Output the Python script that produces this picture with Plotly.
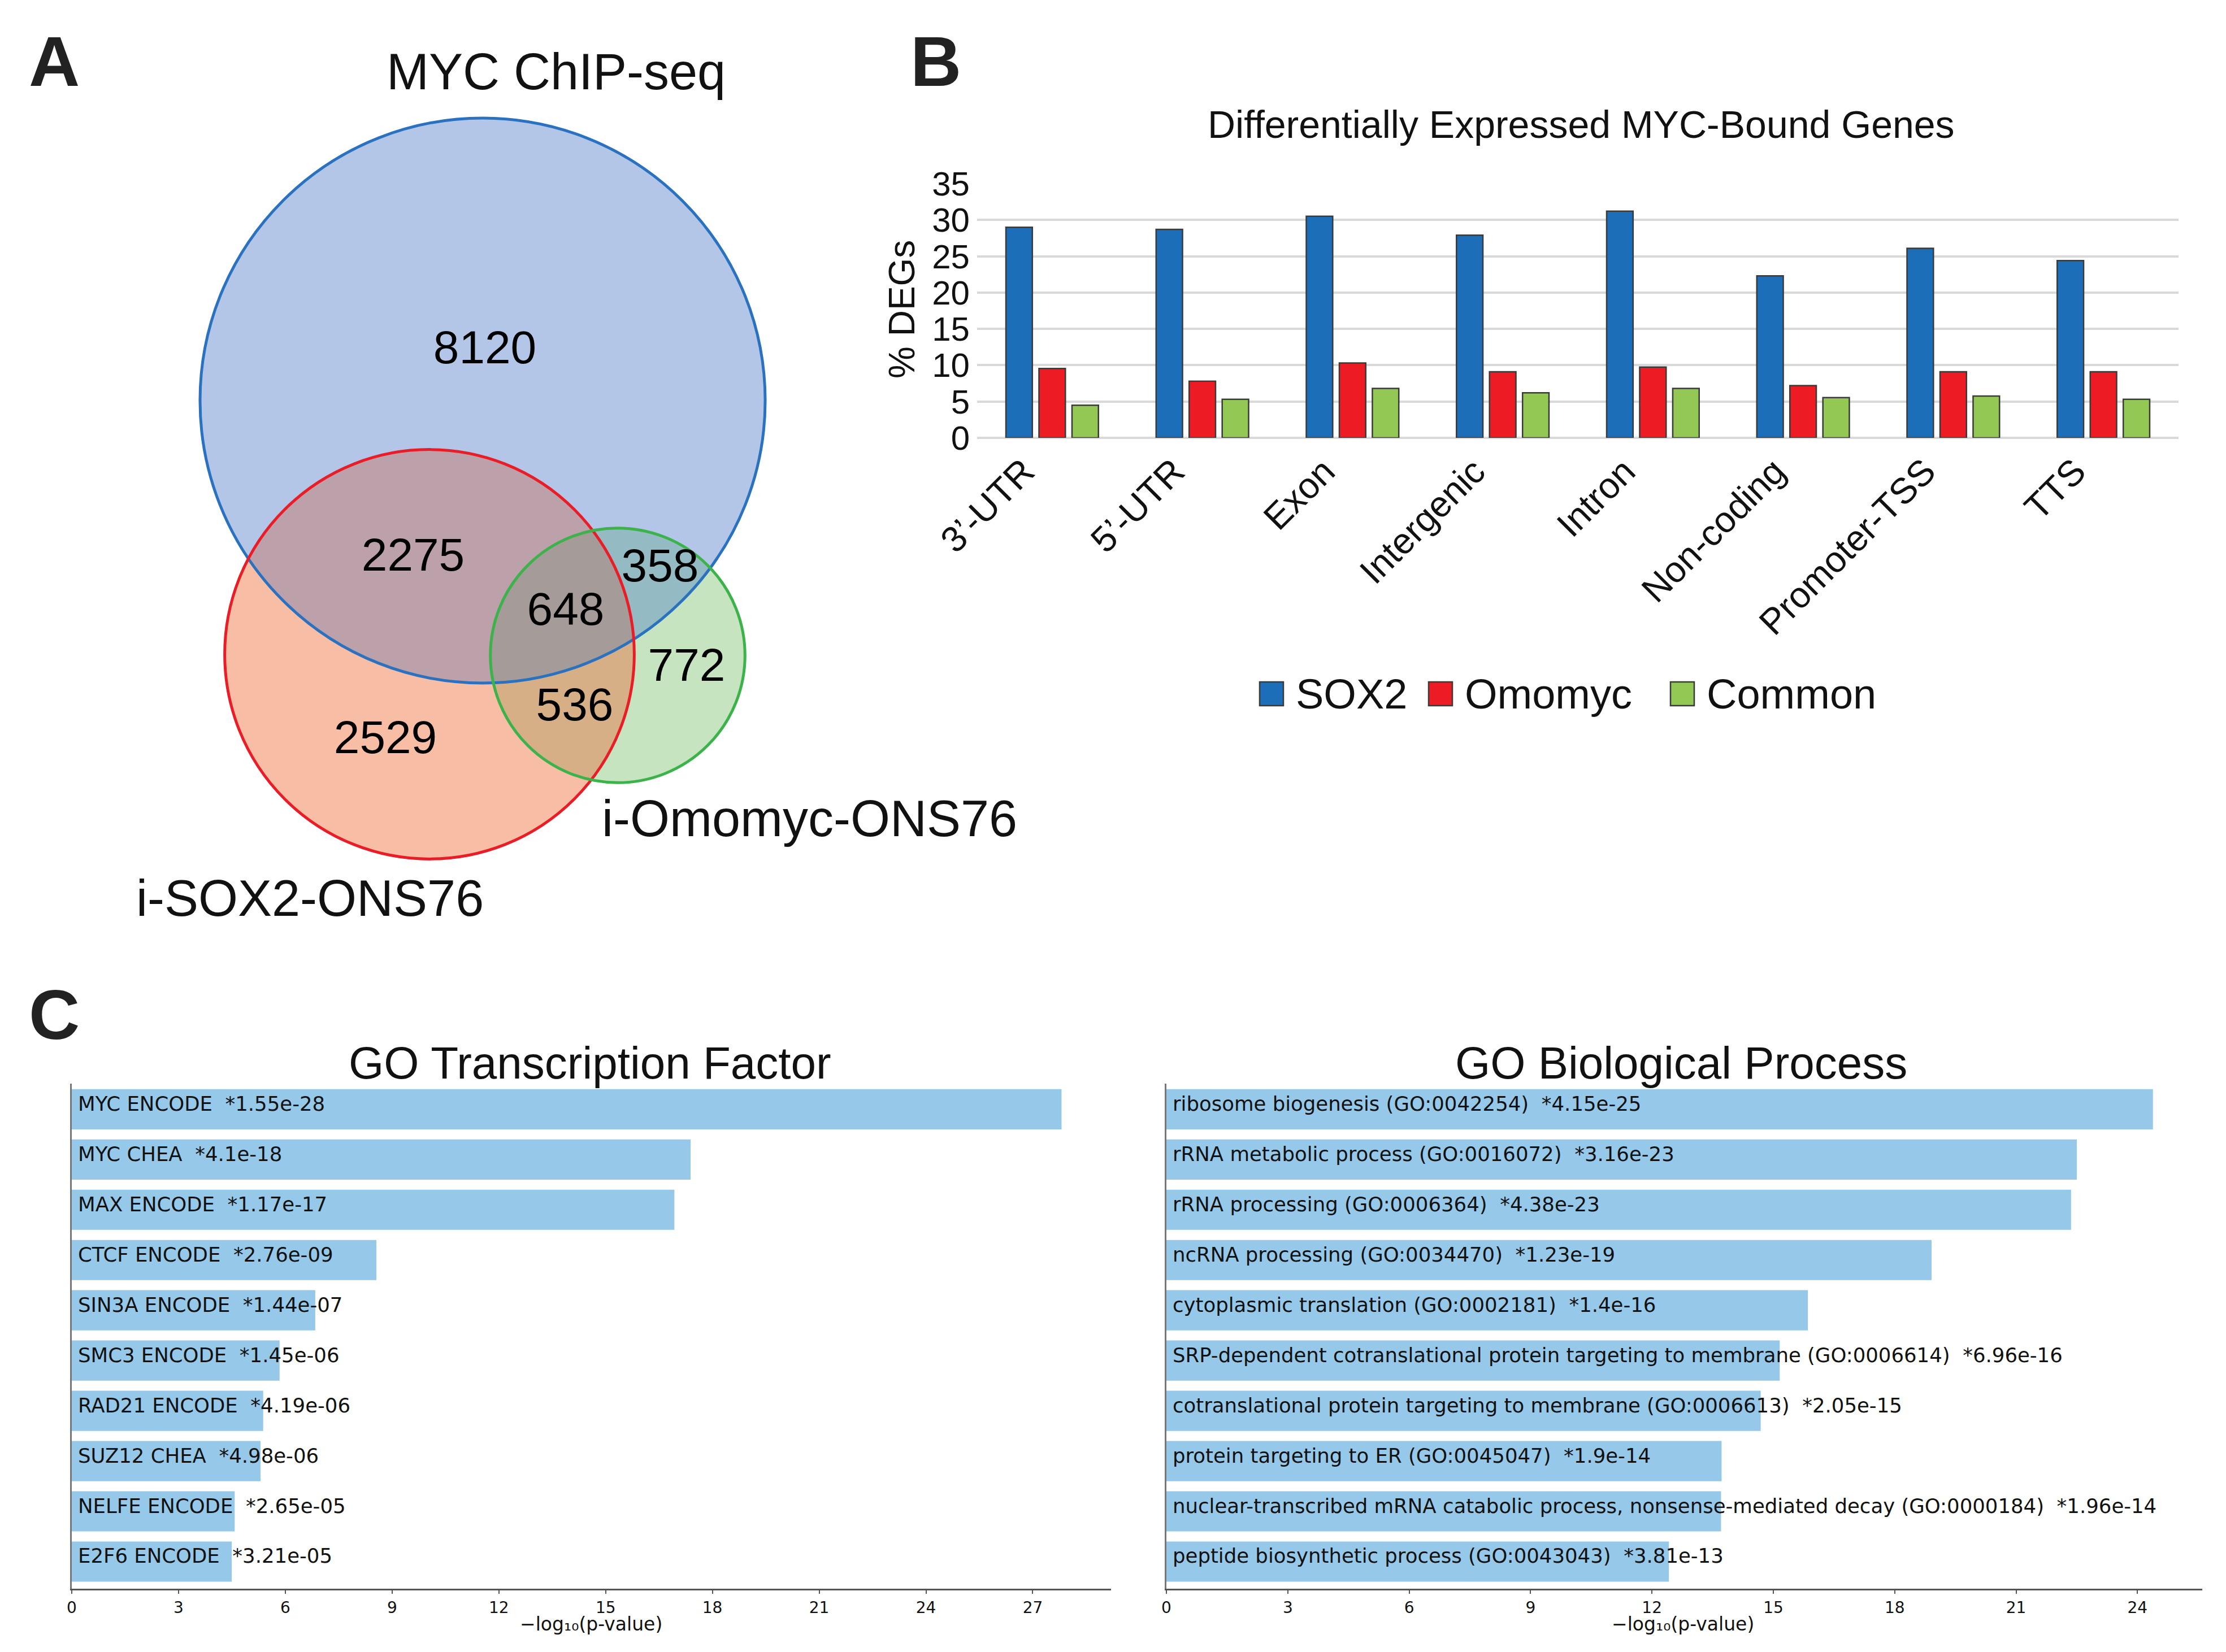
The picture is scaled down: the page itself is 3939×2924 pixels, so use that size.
import numpy as np
import plotly.graph_objects as go

W, H = 3939, 2924
SANS = "Liberation Sans, Arial, Helvetica, sans-serif"
DEJA = "DejaVu Sans, Verdana, sans-serif"

# ---------------- Panel A data (Venn) ----------------
set_names = ["MYC ChIP-seq", "i-SOX2-ONS76", "i-Omomyc-ONS76"]
set_keys = ["M", "S", "O"]
region_keys = ["M", "MS", "MO", "MSO", "O", "SO", "S"]
region_counts = [8120, 2275, 358, 648, 772, 536, 2529]

# ---------------- Panel B data ----------------
categories = ["3’-UTR", "5’-UTR", "Exon", "Intergenic", "Intron", "Non-coding", "Promoter-TSS", "TTS"]
sox2_pct = [29.0, 28.7, 30.5, 27.9, 31.2, 22.3, 26.1, 24.4]
omomyc_pct = [9.55, 7.8, 10.3, 9.1, 9.75, 7.2, 9.1, 9.1]
common_pct = [4.5, 5.3, 6.8, 6.2, 6.8, 5.55, 5.75, 5.3]
series_names = ["SOX2", "Omomyc", "Common"]

# ---------------- Panel C data ----------------
tf_terms = ["MYC ENCODE", "MYC CHEA", "MAX ENCODE", "CTCF ENCODE", "SIN3A ENCODE",
            "SMC3 ENCODE", "RAD21 ENCODE", "SUZ12 CHEA", "NELFE ENCODE", "E2F6 ENCODE"]
tf_pvals = ["1.55e-28", "4.1e-18", "1.17e-17", "2.76e-09", "1.44e-07",
            "1.45e-06", "4.19e-06", "4.98e-06", "2.65e-05", "3.21e-05"]
bp_terms = ["ribosome biogenesis (GO:0042254)",
            "rRNA metabolic process (GO:0016072)",
            "rRNA processing (GO:0006364)",
            "ncRNA processing (GO:0034470)",
            "cytoplasmic translation (GO:0002181)",
            "SRP-dependent cotranslational protein targeting to membrane (GO:0006614)",
            "cotranslational protein targeting to membrane (GO:0006613)",
            "protein targeting to ER (GO:0045047)",
            "nuclear-transcribed mRNA catabolic process, nonsense-mediated decay (GO:0000184)",
            "peptide biosynthetic process (GO:0043043)"]
bp_pvals = ["4.15e-25", "3.16e-23", "4.38e-23", "1.23e-19", "1.4e-16",
            "6.96e-16", "2.05e-15", "1.9e-14", "1.96e-14", "3.81e-13"]
xaxis_ticks_C = [0, 3, 6, 9, 12, 15, 18, 21, 24, 27]


def px(x):
    return x / W


def py(y):
    return 1 - y / H


fig = go.Figure()
shapes = []
annotations = []

# ======================= Panel A: Venn =======================
venn_centers = {"M": (846, 701), "S": (752, 1150), "O": (1085, 1152)}
px_per_sqrt = 4.683
set_totals = {k: sum(c for rk, c in zip(region_keys, region_counts) if k in rk) for k in set_keys}
radii = {k: px_per_sqrt * np.sqrt(set_totals[k]) for k in set_keys}
circ = {k: (venn_centers[k][0], venn_centers[k][1], radii[k]) for k in set_keys}

fill_cols = {"M": "#b4c6e7", "S": "#f8bea5", "O": "#c6e4c0",
             "MS": "#bca0aa", "MO": "#94bac4", "SO": "#d6af87", "MSO": "#a59b98"}
line_cols = {"M": "#2a72c0", "S": "#ea1d27", "O": "#3bb34a"}


def lens_path(keys, n=1500):
    cs = [circ[k] for k in keys]
    xs, ys = [], []
    t = np.linspace(0, 2 * np.pi, n, endpoint=False)
    for i, (cx, cy, r) in enumerate(cs):
        x = cx + r * np.cos(t)
        y = cy + r * np.sin(t)
        m = np.ones_like(x, dtype=bool)
        for j, (cx2, cy2, r2) in enumerate(cs):
            if j != i:
                m &= (x - cx2) ** 2 + (y - cy2) ** 2 <= r2 ** 2 + 1e-6
        xs.append(x[m])
        ys.append(y[m])
    xs = np.concatenate(xs)
    ys = np.concatenate(ys)
    mx, my = xs.mean(), ys.mean()
    order = np.argsort(np.arctan2(ys - my, xs - mx))
    xs, ys = xs[order], ys[order]
    return "M" + " L".join(f"{a:.1f},{b:.1f}" for a, b in zip(xs, ys)) + " Z"


for k in ["M", "S", "O"]:
    cx, cy, r = circ[k]
    shapes.append(dict(type="circle", xref="x4", yref="y4", x0=cx - r, x1=cx + r, y0=cy - r, y1=cy + r,
                       fillcolor=fill_cols[k], line=dict(width=0), layer="below"))
for keys in [("M", "S"), ("M", "O"), ("S", "O"), ("M", "S", "O")]:
    shapes.append(dict(type="path", xref="x4", yref="y4", path=lens_path(keys),
                       fillcolor=fill_cols["".join(keys)], line=dict(width=0), layer="below"))
for k in ["M", "S", "O"]:
    cx, cy, r = circ[k]
    shapes.append(dict(type="circle", xref="x4", yref="y4", x0=cx - r, x1=cx + r, y0=cy - r, y1=cy + r,
                       fillcolor="rgba(0,0,0,0)", line=dict(color=line_cols[k], width=5), layer="below"))

venn_label_pos = {"M": (850, 614), "MS": (723, 981), "MO": (1160, 1000), "MSO": (993, 1077),
                  "O": (1207, 1176), "SO": (1009, 1246), "S": (674, 1304)}
fig.add_trace(go.Scatter(
    x=[venn_label_pos[k][0] for k in region_keys],
    y=[venn_label_pos[k][1] for k in region_keys],
    text=[str(c) for c in region_counts], mode="text", textposition="middle center",
    textfont=dict(family=SANS, size=82, color="black"),
    xaxis="x4", yaxis="y4", showlegend=False, hoverinfo="skip"))

set_label_pos = {"M": (976, 119), "S": (540, 1582), "O": (1424, 1441)}
for k, name in zip(set_keys, set_names):
    annotations.append(dict(x=px(set_label_pos[k][0]), y=py(set_label_pos[k][1]), xref="paper", yref="paper",
                            text=name, showarrow=False, xanchor="center", yanchor="middle",
                            font=dict(family=SANS, size=90, color="#111")))

# ======================= Panel B: grouped bars =======================
bar_cols = ["#1b6eb7", "#ed1c24", "#92c853"]
for name, vals, col in zip(series_names, [sox2_pct, omomyc_pct, common_pct], bar_cols):
    fig.add_trace(go.Bar(x=categories, y=vals, name=name, xaxis="x", yaxis="y",
                         marker=dict(color=col, line=dict(color="#3a3a3a", width=2.5)),
                         showlegend=False))

annotations.append(dict(x=px(2790), y=py(212), xref="paper", yref="paper",
                        text="Differentially Expressed MYC-Bound Genes", showarrow=False,
                        xanchor="center", yanchor="middle", font=dict(family=SANS, size=68, color="#111")))
annotations.append(dict(x=px(1588), y=py(540), xref="paper", yref="paper", text="% DEGs",
                        textangle=-90, showarrow=False, xanchor="center", yanchor="middle",
                        font=dict(family=SANS, size=64, color="#111")))

leg_y = 1220
leg_sq = 42
leg_x = [2221, 2520, 2948]
for name, col, x0 in zip(series_names, bar_cols, leg_x):
    shapes.append(dict(type="rect", xref="paper", yref="paper", x0=px(x0), x1=px(x0 + leg_sq),
                       y0=py(leg_y + leg_sq / 2), y1=py(leg_y - leg_sq / 2),
                       fillcolor=col, line=dict(color="#3a3a3a", width=2.5)))
    annotations.append(dict(x=px(x0 + leg_sq + 20), y=py(leg_y), xref="paper", yref="paper", text=name,
                            showarrow=False, xanchor="left", yanchor="middle",
                            font=dict(family=SANS, size=74, color="#111")))

# ======================= Panel C: horizontal bars =======================
c_col = "#96c8ea"
for terms, pstr, xa, ya in [(tf_terms, tf_pvals, "x2", "y2"), (bp_terms, bp_pvals, "x3", "y3")]:
    vals = -np.log10(np.array([float(p) for p in pstr]))
    idx = list(range(len(terms)))
    fig.add_trace(go.Bar(x=vals, y=idx, orientation="h", width=0.8, xaxis=xa, yaxis=ya,
                         marker=dict(color=c_col, line=dict(width=0)), showlegend=False,
                         hoverinfo="skip"))
    for i, (t, p) in enumerate(zip(terms, pstr)):
        annotations.append(dict(x=0, y=i, xref=xa, yref=ya, text=f"{t}&nbsp;&nbsp;*{p}",
                                showarrow=False, xanchor="left", yanchor="middle", xshift=9, yshift=10,
                                font=dict(family=DEJA, size=35.5, color="#111")))

annotations.append(dict(x=px(1036), y=py(1873), xref="paper", yref="paper", text="GO Transcription Factor",
                        showarrow=False, xanchor="center", yanchor="middle",
                        font=dict(family=SANS, size=80, color="#111")))
annotations.append(dict(x=px(2967), y=py(1873), xref="paper", yref="paper", text="GO Biological Process",
                        showarrow=False, xanchor="center", yanchor="middle",
                        font=dict(family=SANS, size=80, color="#111")))
for xc in [1038, 2970]:
    annotations.append(dict(x=px(xc), y=py(2866), xref="paper", yref="paper",
                            text="−log₁₀(p-value)", showarrow=False,
                            xanchor="center", yanchor="middle",
                            font=dict(family=DEJA, size=33, color="#111")))

for letter, (lx, ly) in {"A": (88, 101), "B": (1648, 101), "C": (88, 1788)}.items():
    annotations.append(dict(x=px(lx), y=py(ly), xref="paper", yref="paper", text=f"<b>{letter}</b>",
                            showarrow=False, xanchor="center", yanchor="middle",
                            font=dict(family=SANS, size=125, color="#222")))

tf_max = float(np.max(-np.log10([float(p) for p in tf_pvals])))
bp_max = float(np.max(-np.log10([float(p) for p in bp_pvals])))

c_yaxis = dict(range=[9.54, -0.51], showticklabels=False, ticks="", showgrid=False, zeroline=False,
               showline=True, linecolor="#777", linewidth=3, automargin=False,
               domain=[py(2804), py(1910)])
c_xaxis = dict(tickmode="array", tickvals=xaxis_ticks_C, ticks="outside", ticklen=6, tickwidth=2,
               tickcolor="#555", showline=True, linecolor="#555", linewidth=3, showgrid=False,
               zeroline=False, automargin=False, tickfont=dict(family=DEJA, size=28, color="#111"))

fig.update_layout(
    width=W, height=H, autosize=False,
    margin=dict(l=0, r=0, t=0, b=0, pad=0, autoexpand=False),
    paper_bgcolor="white", plot_bgcolor="rgba(0,0,0,0)",
    barmode="group", bargap=0.34, bargroupgap=0.2,
    showlegend=False,
    xaxis=dict(domain=[px(1721), px(3847)], type="category", anchor="y", showgrid=False,
               showline=False, ticks="", tickangle=-45, ticklabelshift=-50, ticklabelstandoff=8,
               automargin=False, tickfont=dict(family=SANS, size=64, color="#111")),
    yaxis=dict(domain=[py(767), py(317)], range=[0, 35], dtick=5, anchor="x",
               showgrid=True, gridcolor="#d9d9d9", gridwidth=4, automargin=False,
               zeroline=True, zerolinecolor="#d9d9d9", zerolinewidth=4, showline=False, ticks="",
               ticklabelstandoff=12, tickfont=dict(family=SANS, size=60, color="#111")),
    xaxis2=dict(domain=[px(119), px(1958)], range=[0, tf_max * 1.05], anchor="y2", **c_xaxis),
    yaxis2=dict(anchor="x2", **c_yaxis),
    xaxis3=dict(domain=[px(2056), px(3889)], range=[0, bp_max * 1.05], anchor="y3", **c_xaxis),
    yaxis3=dict(anchor="x3", **c_yaxis),
    xaxis4=dict(domain=[0, 1], range=[0, W], anchor="y4", visible=False, fixedrange=True, automargin=False),
    yaxis4=dict(domain=[0, 1], range=[H, 0], anchor="x4", visible=False, fixedrange=True, automargin=False),
    shapes=shapes,
    annotations=annotations,
)

fig.write_html("out.html")
